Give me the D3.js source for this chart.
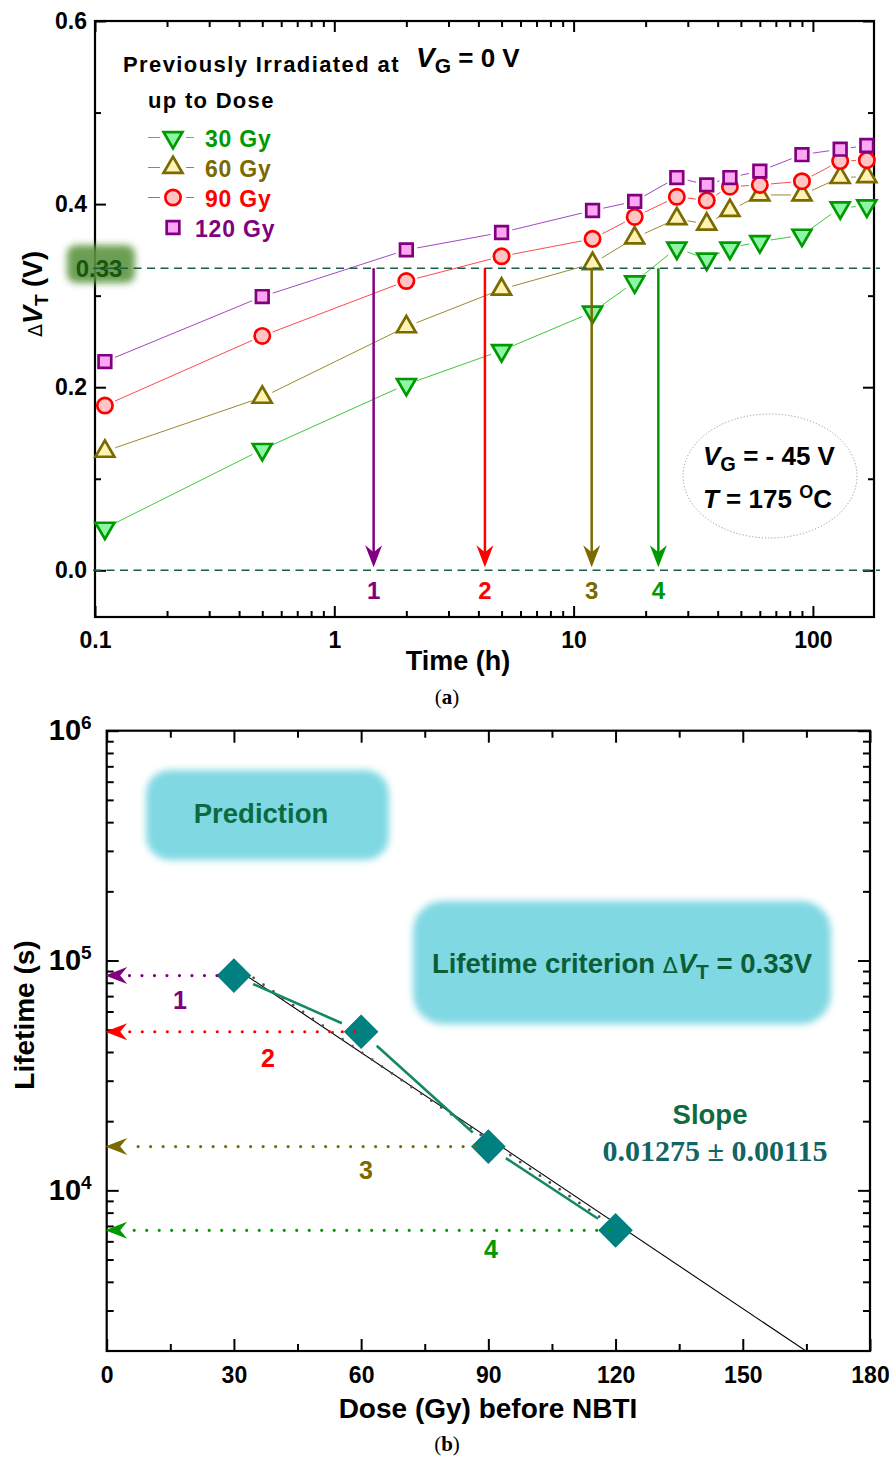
<!DOCTYPE html>
<html><head><meta charset="utf-8">
<script src="https://cdn.jsdelivr.net/npm/d3@7"></script>
<style>
html,body{margin:0;padding:0;background:#fff;}
svg{display:block;}
</style></head><body>
<svg id="fig" width="889" height="1459" font-family="Liberation Sans, Arial, sans-serif" font-weight="bold"></svg>
<script>
// ---------- panel (a): threshold-voltage shift during NBTI stress ----------
const stressTime = [0.11, 0.5, 2, 5, 12, 18, 27, 36, 45, 60, 90, 130, 168]; // hours
const dVT_30  = [0.046, 0.132, 0.203, 0.240, 0.282, 0.315, 0.352, 0.340, 0.352, 0.359, 0.366, 0.396, 0.398];
const dVT_60  = [0.130, 0.189, 0.266, 0.307, 0.335, 0.363, 0.384, 0.378, 0.393, 0.410, 0.410, 0.429, 0.430];
const dVT_90  = [0.180, 0.256, 0.316, 0.343, 0.362, 0.386, 0.408, 0.404, 0.419, 0.421, 0.425, 0.447, 0.448];
const dVT_120 = [0.228, 0.299, 0.350, 0.369, 0.393, 0.403, 0.429, 0.421, 0.429, 0.436, 0.454, 0.460, 0.464];
const doseLabels = ["30 Gy", "60 Gy", "90 Gy", "120 Gy"];
const criterion = 0.33;                       // V
const crossTime = [1.46, 4.26, 11.9, 22.6];   // h, where each curve reaches the criterion
const crossLabels = ["1", "2", "3", "4"];
const timeMajor = [0.1, 1, 10, 100];
const timeMinor = [0.2,0.3,0.4,0.5,0.6,0.7,0.8,0.9, 2,3,4,5,6,7,8,9, 20,30,40,50,60,70,80,90];
const dvtMajor = [0.0, 0.2, 0.4, 0.6];
const dvtMinor = [0.1, 0.3, 0.5];

// ---------- panel (b): lifetime versus prior dose ----------
const priorDose = [30, 60, 90, 120];                 // Gy
const lifetime  = [8.6e4, 4.9e4, 1.55e4, 6.7e3];     // s
const arrowFromDose = [26, 58.5, 87, 118.5];
const fitSlope = 0.01275, fitSlopeErr = 0.00115;     // decades per Gy
const fitDose = [30, 121];
const fitLogAt30 = 4.984;
const trendDose = [30, 170];
const trendLife = [9.35e4, 1.73e3];
const doseMajor = [0, 30, 60, 90, 120, 150, 180];
const doseMinor = [15, 45, 75, 105, 135, 165];
const lifeMajor = [1e4, 1e5, 1e6];
const lifeMinor = [3e3,4e3,5e3,6e3,7e3,8e3,9e3, 2e4,3e4,4e4,5e4,6e4,7e4,8e4,9e4, 2e5,3e5,4e5,5e5,6e5,7e5,8e5,9e5];

const SANS = "Liberation Sans, Arial, sans-serif";
const SERIF = "Liberation Serif, Times New Roman, serif";
const SYMB = "DejaVu Sans, sans-serif";

const svg = d3.select("#fig");
const defs = svg.append("defs");
defs.append("filter").attr("id", "soft").attr("x", "-20%").attr("y", "-30%").attr("width", "140%").attr("height", "160%")
  .append("feGaussianBlur").attr("stdDeviation", 3.5);

const series = [
  {label: doseLabels[0], values: dVT_30,  shape: "down",   fill: "#8ef5a6", stroke: "#009a00", line: "#3cc83c", text: "#009a00"},
  {label: doseLabels[1], values: dVT_60,  shape: "up",     fill: "#fff2b5", stroke: "#7a6a00", line: "#9a8a30", text: "#7a6a00"},
  {label: doseLabels[2], values: dVT_90,  shape: "circle", fill: "#ffc4c4", stroke: "#ff0000", line: "#ff4a4a", text: "#ff0000"},
  {label: doseLabels[3], values: dVT_120, shape: "square", fill: "#ffa6f2", stroke: "#800080", line: "#a447c4", text: "#800080"}
];
const arrowColors = ["#800080", "#ff0000", "#7a6a00", "#009a00"];

function symbolPath(shape) {
  if (shape === "down" || shape === "up") return d3.symbol(d3.symbolTriangle, 155)();
  if (shape === "circle") return d3.symbol(d3.symbolCircle, 185)();
  return d3.symbol(d3.symbolSquare, 160)();
}
function drawMarker(g, s, x, y) {
  g.append("path").attr("d", symbolPath(s.shape))
    .attr("transform", `translate(${x},${y})` + (s.shape === "down" ? " rotate(180)" : ""))
    .attr("fill", s.fill).attr("stroke", s.stroke).attr("stroke-width", 2.7);
}
function gapped(pts, gap) {
  const segs = [];
  for (let i = 0; i < pts.length - 1; i++) {
    const [x1, y1] = pts[i], [x2, y2] = pts[i + 1];
    const dx = x2 - x1, dy = y2 - y1, L = Math.hypot(dx, dy);
    if (L <= 2 * gap) continue;
    const ux = dx / L, uy = dy / L;
    segs.push([x1 + ux * gap, y1 + uy * gap, x2 - ux * gap, y2 - uy * gap]);
  }
  return segs;
}
function styleAxis(g, fontSize) {
  g.attr("font-family", SANS).attr("font-weight", "bold");
  g.select(".domain").remove();
  g.selectAll(".tick line").attr("stroke", "#000").attr("stroke-width", 2);
  g.selectAll(".tick text").attr("fill", "#000").attr("font-size", fontSize);
}
function panelTag(x, y, letter) {
  const t = svg.append("text").attr("x", x).attr("y", y).attr("text-anchor", "middle").attr("font-size", 21)
    .attr("font-family", SERIF).attr("font-weight", "normal");
  t.append("tspan").text("(");
  t.append("tspan").attr("font-weight", "bold").text(letter);
  t.append("tspan").text(")");
}

// =================== panel (a) ===================
const A = {l: 95, r: 874, t: 21, b: 617};
const xA = d3.scaleLog().domain([0.1, 180]).range([A.l, A.r]);
const yA = d3.scaleLinear().domain([-0.051, 0.6]).range([A.b, A.t]);
const gA = svg.append("g");

// axes with inward ticks on all four sides
const fmtTime = d => (d < 1 ? d3.format(".1f")(d) : d3.format("d")(d));
gA.append("g").attr("transform", `translate(0,${A.b})`)
  .call(d3.axisBottom(xA).tickValues(timeMajor).tickSize(-11).tickPadding(15).tickFormat(fmtTime)).call(g => styleAxis(g, 23));
gA.append("g").attr("transform", `translate(0,${A.b})`)
  .call(d3.axisBottom(xA).tickValues(timeMinor).tickSize(-6).tickFormat("")).call(g => styleAxis(g, 23));
gA.append("g").attr("transform", `translate(0,${A.t})`)
  .call(d3.axisTop(xA).tickValues(timeMajor).tickSize(-11).tickFormat("")).call(g => styleAxis(g, 23));
gA.append("g").attr("transform", `translate(0,${A.t})`)
  .call(d3.axisTop(xA).tickValues(timeMinor).tickSize(-6).tickFormat("")).call(g => styleAxis(g, 23));
gA.append("g").attr("transform", `translate(${A.l},0)`)
  .call(d3.axisLeft(yA).tickValues(dvtMajor).tickSize(-11).tickPadding(8).tickFormat(d3.format(".1f"))).call(g => styleAxis(g, 23));
gA.append("g").attr("transform", `translate(${A.l},0)`)
  .call(d3.axisLeft(yA).tickValues(dvtMinor).tickSize(-6).tickFormat("")).call(g => styleAxis(g, 23));
gA.append("g").attr("transform", `translate(${A.r},0)`)
  .call(d3.axisRight(yA).tickValues(dvtMajor).tickSize(-11).tickFormat("")).call(g => styleAxis(g, 23));
gA.append("g").attr("transform", `translate(${A.r},0)`)
  .call(d3.axisRight(yA).tickValues(dvtMinor).tickSize(-6).tickFormat("")).call(g => styleAxis(g, 23));
gA.append("rect").attr("x", A.l).attr("y", A.t).attr("width", A.r - A.l).attr("height", A.b - A.t)
  .attr("fill", "none").attr("stroke", "#000").attr("stroke-width", 2.2);

// highlighted criterion value on the y axis
gA.append("rect").attr("x", 67).attr("y", 245).attr("width", 68).attr("height", 38).attr("rx", 9)
  .attr("fill", "#5c9440").attr("opacity", 0.9).attr("filter", "url(#soft)");
gA.append("text").attr("x", 99).attr("y", yA(criterion) + 8.5).attr("text-anchor", "middle")
  .attr("font-size", 24).attr("fill", "#17560f").text(criterion.toFixed(2));

// series lines (with gaps at the symbols) and symbols
series.forEach(s => {
  const pts = stressTime.map((t, i) => [xA(t), yA(s.values[i])]);
  gA.append("g").selectAll("line").data(gapped(pts, 11)).join("line")
    .attr("x1", d => d[0]).attr("y1", d => d[1]).attr("x2", d => d[2]).attr("y2", d => d[3])
    .attr("stroke", s.line).attr("stroke-width", 1);
});
series.forEach(s => {
  const g = gA.append("g");
  stressTime.forEach((t, i) => drawMarker(g, s, xA(t), yA(s.values[i])));
});

// dashed reference lines at the criterion and at zero
[criterion, 0].forEach(v => {
  gA.append("line").attr("x1", A.l - 2).attr("x2", A.r + 6).attr("y1", yA(v)).attr("y2", yA(v))
    .attr("stroke", "#1b5e45").attr("stroke-width", 1.6).attr("stroke-dasharray", "8,5.5");
});

// vertical arrows from the criterion down to the time axis
const arrowDown = "M0,0 L-8.5,-22 L0,-15 L8.5,-22 Z";
crossTime.forEach((t, i) => {
  const x = xA(t), c = arrowColors[i];
  gA.append("line").attr("x1", x).attr("x2", x).attr("y1", yA(criterion)).attr("y2", yA(0) - 14)
    .attr("stroke", c).attr("stroke-width", 2.5);
  gA.append("path").attr("d", arrowDown).attr("transform", `translate(${x},${yA(0) - 3})`).attr("fill", c);
  gA.append("text").attr("x", x).attr("y", 599).attr("text-anchor", "middle").attr("font-size", 24)
    .attr("fill", c).text(crossLabels[i]);
});

// legend
gA.append("text").attr("x", 123).attr("y", 72).attr("font-size", 22).attr("letter-spacing", 1.4)
  .text("Previously Irradiated at");
const vg = gA.append("text").attr("x", 416).attr("y", 67).attr("font-size", 28);
vg.append("tspan").attr("font-style", "italic").text("V");
vg.append("tspan").attr("font-size", 21).attr("dy", 6).text("G");
vg.append("tspan").attr("font-size", 26).attr("dy", -6).text(" = 0 V");
gA.append("text").attr("x", 148).attr("y", 108).attr("font-size", 22).attr("letter-spacing", 1.3).text("up to Dose");
series.forEach((s, i) => {
  const cy = 137.5 + i * 30, cx = 173;
  if (i < 3) {
    gA.append("line").attr("x1", 148).attr("x2", 160).attr("y1", cy).attr("y2", cy).attr("stroke", s.line).attr("stroke-width", 1);
    gA.append("line").attr("x1", 186).attr("x2", 194).attr("y1", cy).attr("y2", cy).attr("stroke", s.line).attr("stroke-width", 1);
  }
  drawMarker(gA, s, cx, cy);
  gA.append("text").attr("x", i < 3 ? 205 : 195).attr("y", cy + 9).attr("font-size", 23).attr("letter-spacing", 0.8)
    .attr("fill", s.text).text(s.label);
});

// stress conditions
gA.append("ellipse").attr("cx", 770).attr("cy", 476).attr("rx", 87).attr("ry", 62)
  .attr("fill", "none").attr("stroke", "#9a9a9a").attr("stroke-width", 1).attr("stroke-dasharray", "1.2,2");
const c1 = gA.append("text").attr("x", 703).attr("y", 465).attr("font-size", 26);
c1.append("tspan").attr("font-style", "italic").text("V");
c1.append("tspan").attr("font-size", 20).attr("dy", 6).text("G");
c1.append("tspan").attr("dy", -6).text(" = - 45 V");
const c2 = gA.append("text").attr("x", 703).attr("y", 508).attr("font-size", 26);
c2.append("tspan").attr("font-style", "italic").text("T");
c2.append("tspan").text(" = 175 ");
c2.append("tspan").attr("font-size", 18).attr("dy", -10).text("O");
c2.append("tspan").attr("dy", 10).text("C");

// axis titles and panel tag
gA.append("text").attr("x", 458).attr("y", 670).attr("text-anchor", "middle").attr("font-size", 27).text("Time (h)");
const yt = gA.append("text").attr("transform", "translate(42,294) rotate(-90)").attr("text-anchor", "middle").attr("font-size", 27);
yt.append("tspan").attr("font-family", SYMB).attr("font-weight", "normal").attr("font-size", 19).text("Δ");
yt.append("tspan").attr("font-style", "italic").text("V");
yt.append("tspan").attr("font-size", 19).attr("dy", 6).text("T");
yt.append("tspan").attr("dy", -6).text(" (V)");
panelTag(447, 704, "a");

// =================== panel (b) ===================
const B = {l: 106.7, r: 870, t: 730.7, b: 1351};
const xB = d3.scaleLinear().domain([0, 180]).range([B.l, B.r]);
const yB = d3.scaleLog().domain([2000, 1e6]).range([B.b, B.t]);
const gB = svg.append("g");
defs.append("clipPath").attr("id", "clipB").append("rect")
  .attr("x", B.l).attr("y", B.t).attr("width", B.r - B.l).attr("height", B.b - B.t);

// shaded annotation boxes (drawn first, underneath everything)
gB.append("rect").attr("x", 146).attr("y", 770).attr("width", 243).attr("height", 90).attr("rx", 24)
  .attr("fill", "#80d8e3").attr("filter", "url(#soft)");
gB.append("rect").attr("x", 413).attr("y", 901).attr("width", 418).attr("height", 123).attr("rx", 30)
  .attr("fill", "#80d8e3").attr("filter", "url(#soft)");

gB.append("g").attr("transform", `translate(0,${B.b})`)
  .call(d3.axisBottom(xB).tickValues(doseMajor).tickSize(-12).tickPadding(15.5).tickFormat(d3.format("d"))).call(g => styleAxis(g, 23));
gB.append("g").attr("transform", `translate(0,${B.b})`)
  .call(d3.axisBottom(xB).tickValues(doseMinor).tickSize(-7).tickFormat("")).call(g => styleAxis(g, 23));
gB.append("g").attr("transform", `translate(0,${B.t})`)
  .call(d3.axisTop(xB).tickValues(doseMajor).tickSize(-12).tickFormat("")).call(g => styleAxis(g, 23));
gB.append("g").attr("transform", `translate(0,${B.t})`)
  .call(d3.axisTop(xB).tickValues(doseMinor).tickSize(-7).tickFormat("")).call(g => styleAxis(g, 23));
const yLeft = gB.append("g").attr("transform", `translate(${B.l},0)`)
  .call(d3.axisLeft(yB).tickValues(lifeMajor).tickSize(-12).tickPadding(15)).call(g => styleAxis(g, 29));
yLeft.selectAll(".tick text").each(function (d) {
  const t = d3.select(this).text("");
  t.append("tspan").text("10");
  t.append("tspan").attr("font-size", 19).attr("dy", -11).text(Math.round(Math.log10(d)));
});
gB.append("g").attr("transform", `translate(${B.l},0)`)
  .call(d3.axisLeft(yB).tickValues(lifeMinor).tickSize(-7).tickFormat("")).call(g => styleAxis(g, 28));
gB.append("g").attr("transform", `translate(${B.r},0)`)
  .call(d3.axisRight(yB).tickValues(lifeMajor).tickSize(-12).tickFormat("")).call(g => styleAxis(g, 28));
gB.append("g").attr("transform", `translate(${B.r},0)`)
  .call(d3.axisRight(yB).tickValues(lifeMinor).tickSize(-7).tickFormat("")).call(g => styleAxis(g, 28));
gB.append("rect").attr("x", B.l).attr("y", B.t).attr("width", B.r - B.l).attr("height", B.b - B.t)
  .attr("fill", "none").attr("stroke", "#000").attr("stroke-width", 2.2);

// extrapolated trend (solid) and fitted line (dotted)
const plotArea = gB.append("g").attr("clip-path", "url(#clipB)");
plotArea.append("line")
  .attr("x1", xB(trendDose[0])).attr("y1", yB(trendLife[0])).attr("x2", xB(trendDose[1])).attr("y2", yB(trendLife[1]))
  .attr("stroke", "#000").attr("stroke-width", 1.1);
const fitLife = fitDose.map(d => Math.pow(10, fitLogAt30 - fitSlope * (d - 30)));
plotArea.append("line")
  .attr("x1", xB(fitDose[0])).attr("y1", yB(fitLife[0])).attr("x2", xB(fitDose[1])).attr("y2", yB(fitLife[1]))
  .attr("stroke", "#505050").attr("stroke-width", 2.8).attr("stroke-linecap", "round").attr("stroke-dasharray", "0,12");

// measured lifetimes joined by segments with gaps
const ptsB = priorDose.map((d, i) => [xB(d), yB(lifetime[i])]);
gB.append("g").selectAll("line").data(gapped(ptsB, 21)).join("line")
  .attr("x1", d => d[0]).attr("y1", d => d[1]).attr("x2", d => d[2]).attr("y2", d => d[3])
  .attr("stroke", "#138a5e").attr("stroke-width", 2.6);
gB.append("g").selectAll("path").data(ptsB).join("path")
  .attr("d", d3.symbol(d3.symbolSquare, 600)())
  .attr("transform", d => `translate(${d[0]},${d[1]}) rotate(45)`)
  .attr("fill", "#008080");

// dotted arrows to the lifetime axis
const arrowLeft = "M0,0 L22,-8.5 L15,0 L22,8.5 Z";
priorDose.forEach((d, i) => {
  const y = yB(lifetime[i]), c = arrowColors[i];
  gB.append("line").attr("x1", xB(arrowFromDose[i])).attr("x2", B.l + 20).attr("y1", y).attr("y2", y)
    .attr("stroke", c).attr("stroke-width", 3.2).attr("stroke-linecap", "round").attr("stroke-dasharray", "0,12.5");
  gB.append("path").attr("d", arrowLeft).attr("transform", `translate(${B.l - 1.5},${y})`).attr("fill", c);
});
const tagPos = [[180, 1009], [268, 1067], [366, 1179], [491, 1258]];
crossLabels.forEach((lab, i) => {
  gB.append("text").attr("x", tagPos[i][0]).attr("y", tagPos[i][1]).attr("text-anchor", "middle")
    .attr("font-size", 25).attr("fill", arrowColors[i]).text(lab);
});

// annotation text
gB.append("text").attr("x", 261).attr("y", 823).attr("text-anchor", "middle").attr("font-size", 27.5)
  .attr("fill", "#0c6a42").text("Prediction");
const lc = gB.append("text").attr("x", 622).attr("y", 973).attr("text-anchor", "middle").attr("font-size", 27.5)
  .attr("fill", "#0b5e38");
lc.append("tspan").text("Lifetime criterion ");
lc.append("tspan").attr("font-family", SYMB).attr("font-weight", "normal").attr("font-size", 22).text("Δ");
lc.append("tspan").attr("font-style", "italic").text("V");
lc.append("tspan").attr("font-size", 21).attr("dy", 6).text("T");
lc.append("tspan").attr("dy", -6).text(" = " + criterion.toFixed(2) + "V");
gB.append("text").attr("x", 710).attr("y", 1124).attr("text-anchor", "middle").attr("font-size", 27.5)
  .attr("fill", "#0e6a40").text("Slope");
gB.append("text").attr("x", 715).attr("y", 1161).attr("text-anchor", "middle").attr("font-size", 30)
  .attr("font-family", SERIF).attr("fill", "#136464")
  .text(`${fitSlope} ± ${fitSlopeErr}`);

// axis titles and panel tag
gB.append("text").attr("x", 488).attr("y", 1418).attr("text-anchor", "middle").attr("font-size", 28)
  .text("Dose (Gy) before NBTI");
gB.append("text").attr("transform", "translate(34,1015) rotate(-90)").attr("text-anchor", "middle").attr("font-size", 28)
  .text("Lifetime (s)");
panelTag(447, 1451, "b");
</script>
</body></html>
